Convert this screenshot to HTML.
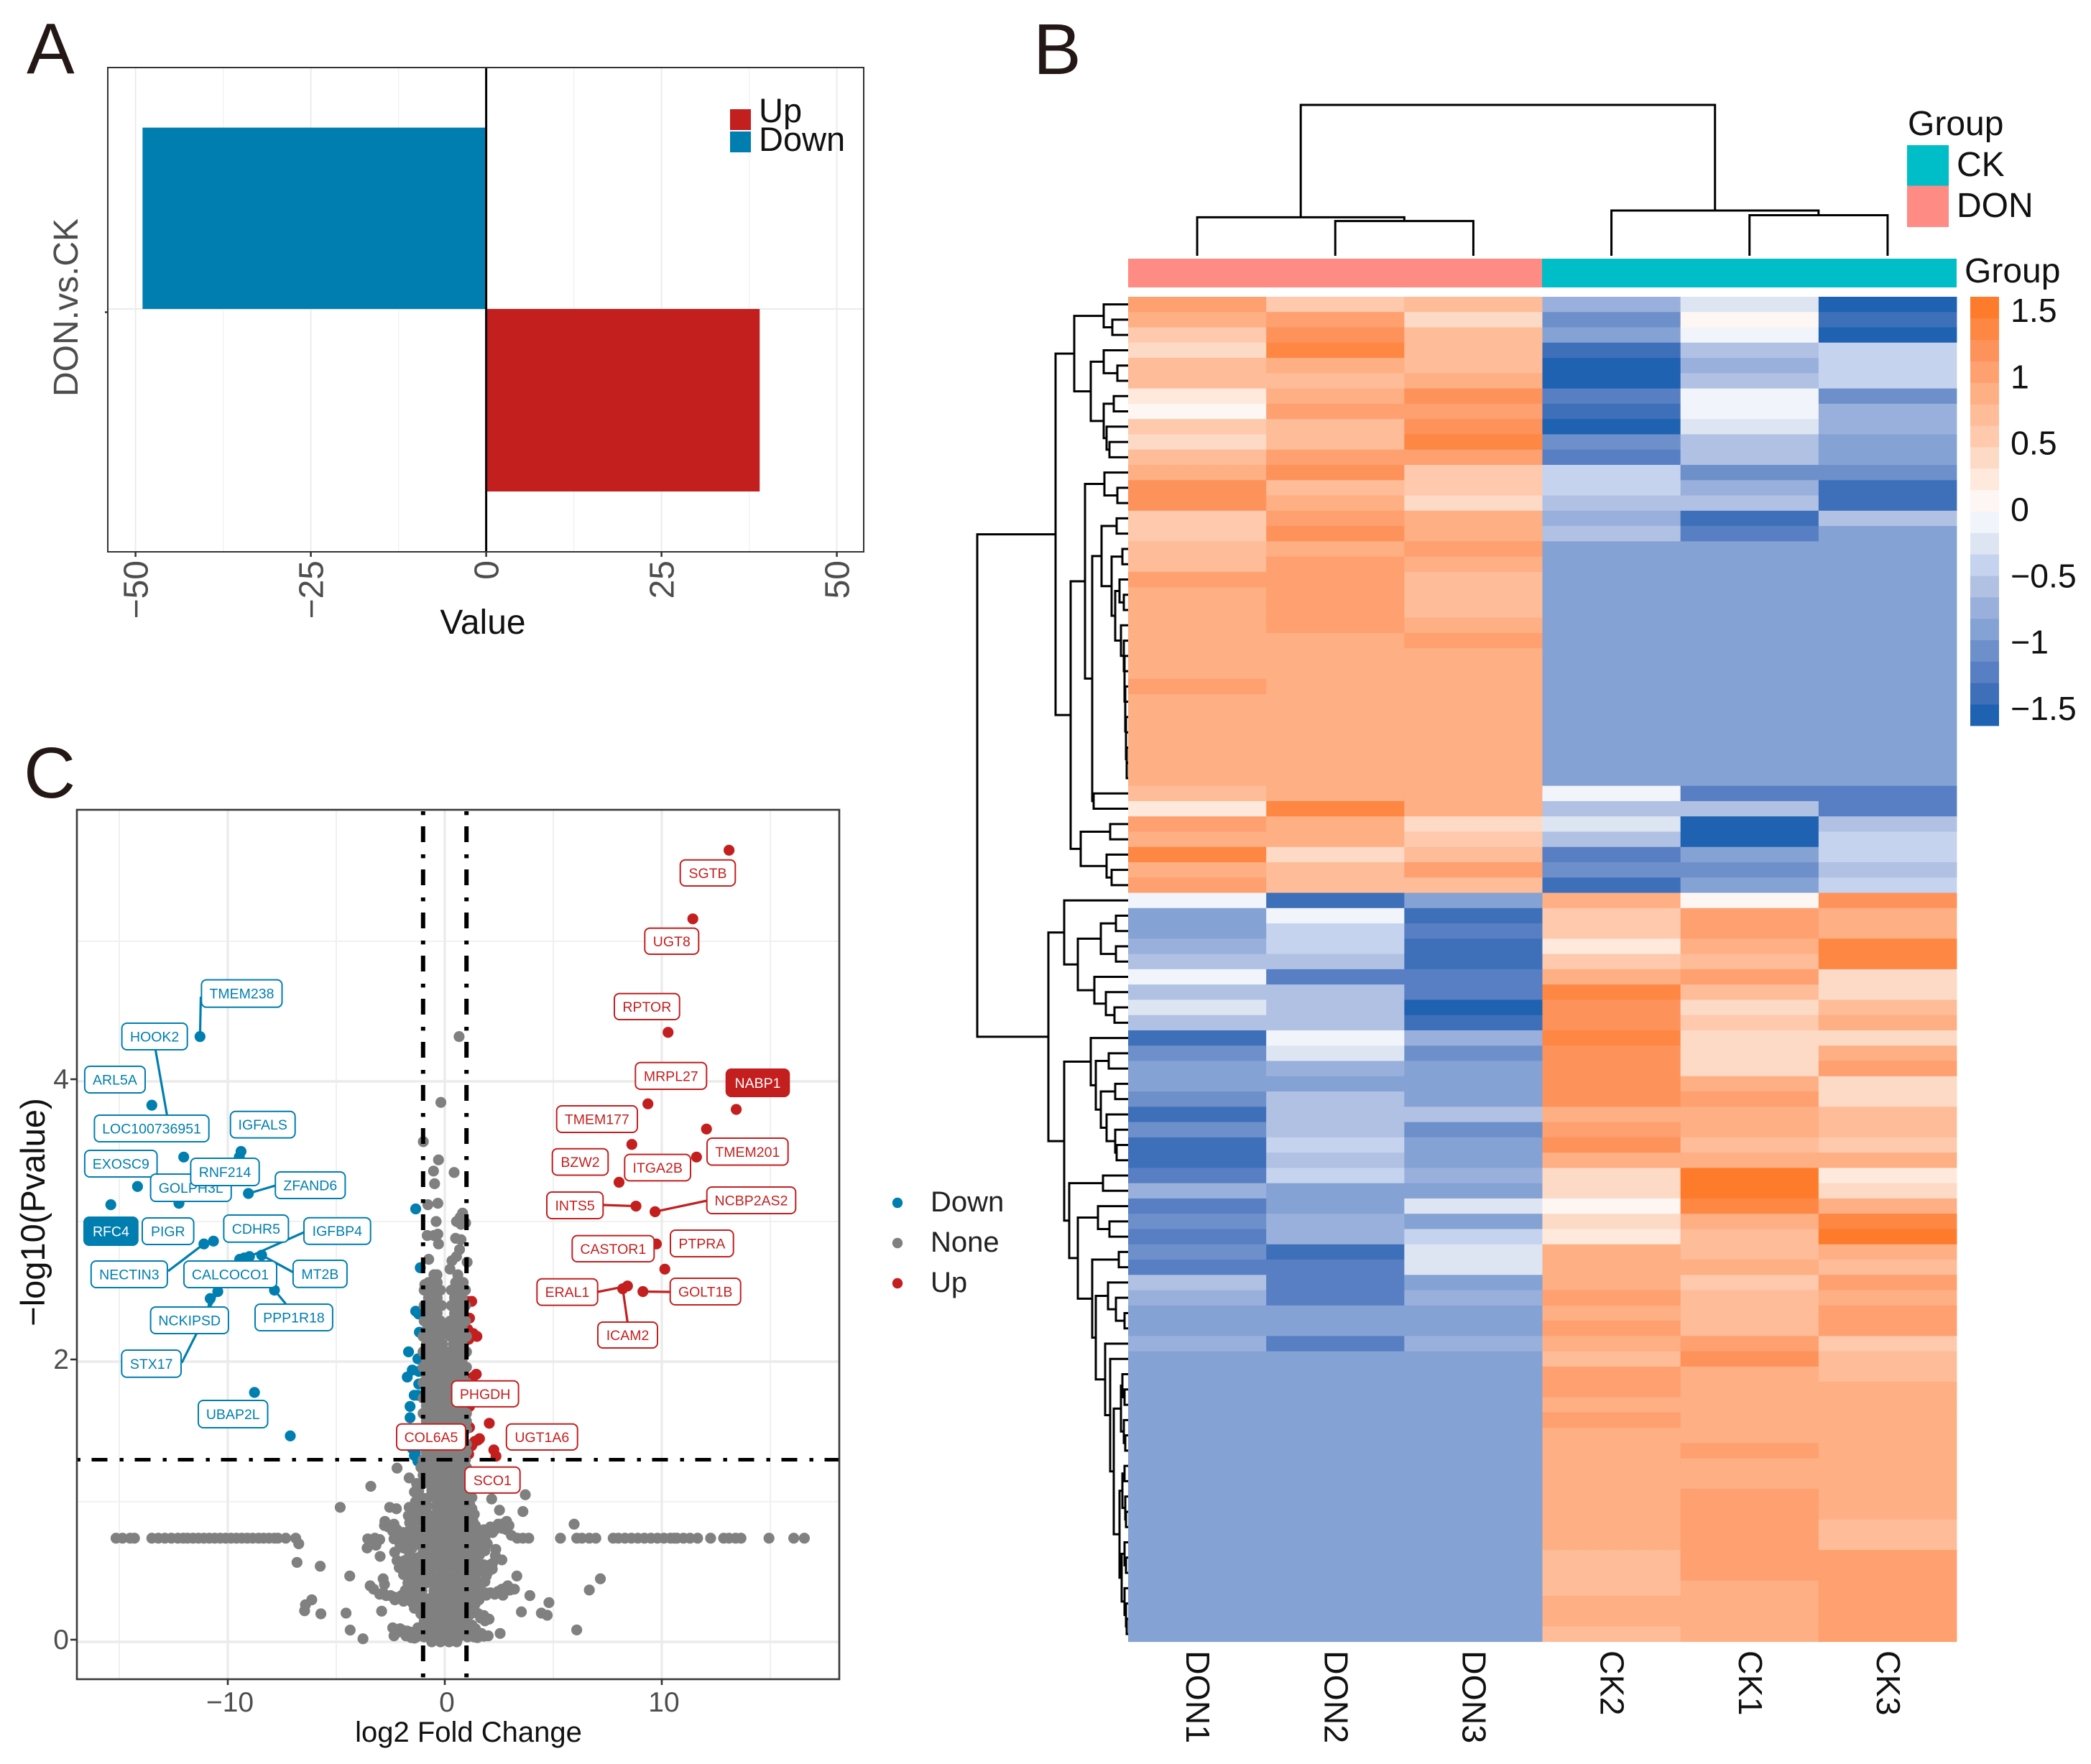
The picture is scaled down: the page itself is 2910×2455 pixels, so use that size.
<!DOCTYPE html>
<html lang="en">
<head>
<meta charset="utf-8">
<title>Differential expression figure: bar chart, heatmap and volcano plot</title>
<style>
html,body{margin:0;padding:0;background:#fff;}
svg{display:block;font-family:"Liberation Sans",Arial,sans-serif;}
</style>
</head>
<body>
<svg id="figure" xmlns="http://www.w3.org/2000/svg" width="2910" height="2455" viewBox="0 0 2910 2455">
<rect x="0" y="0" width="2910" height="2455" fill="#fff"/>
<text x="37" y="102" font-size="100" fill="#231815">A</text>
<text x="1438" y="103" font-size="100" fill="#231815">B</text>
<text x="33" y="1110" font-size="100" fill="#231815">C</text>

<g id="panelA"></g>
<text transform="translate(108 428) rotate(-90)" text-anchor="middle" font-size="48" fill="#4d4d4d">DON.vs.CK</text>
<text x="672" y="882" text-anchor="middle" font-size="48" fill="#111">Value</text>
<rect x="1016" y="152" width="29" height="29" fill="#C41F1F"/>
<rect x="1016" y="183" width="29" height="29" fill="#007EAF"/>
<text x="1056" y="170" font-size="47" fill="#111">Up</text>
<text x="1056" y="210" font-size="47" fill="#111">Down</text>

<g id="panelB"></g>
<rect x="1570" y="360" width="576" height="40" fill="#FF8B85"/>
<rect x="2146" y="360" width="577" height="40" fill="#00BEC8"/>
<text x="2734" y="393" font-size="48" fill="#111">Group</text>
<text x="2655" y="188" font-size="48" fill="#111">Group</text>
<rect x="2654" y="202" width="58" height="56.5" fill="#00BEC8"/>
<rect x="2654" y="258.5" width="58" height="57.5" fill="#FF8B85"/>
<text x="2723" y="245" font-size="48" fill="#111">CK</text>
<text x="2723" y="302" font-size="48" fill="#111">DON</text>

<g id="panelC"></g>
<text x="652" y="2424" text-anchor="middle" font-size="40" fill="#111">log2 Fold Change</text>
<text transform="translate(62 1687) rotate(-90)" text-anchor="middle" font-size="47" fill="#111">−log10(Pvalue)</text>
<circle cx="1249" cy="1674" r="7.2" fill="#007EAF"/>
<circle cx="1249" cy="1730" r="7.2" fill="#808080"/>
<circle cx="1249" cy="1786" r="7.2" fill="#C41F1F"/>
<text x="1295" y="1686" font-size="40" fill="#222">Down</text>
<text x="1295" y="1742" font-size="40" fill="#222">None</text>
<text x="1295" y="1798" font-size="40" fill="#222">Up</text>
</svg>

<script>
/* ---------- Panel A data ---------- */
const barCategories = ['Down', 'Up'];
const barValues = [-49, 39];
const barTicks = [-50, -25, 0, 25, 50];
const barMinorTicks = [-37.5, -12.5, 12.5, 37.5];

/* ---------- Panel B data ---------- */
const heatColumns = ['DON1', 'DON2', 'DON3', 'CK2', 'CK1', 'CK3'];
const heatPalette = ['#1e62b1','#3e70ba','#587fc3','#6e90ca','#85a2d4','#9ab0dc','#b1c1e3','#c5d3ee','#dee5f2','#f1f4fa','#fef6f2','#fee9dc','#fddac6','#fec9ad','#febc98','#feaf84','#fea06f','#fe925b','#fe8743','#fe7b2b'];
const heatDomain = [-1.625, 1.603];
const colorbarTicks = [1.5, 1, 0.5, 0, -0.5, -1, -1.5];
const heatValues = [
[1.04,.55,.71,-.74,-.25,-1.54],[.88,1.04,.39,-1.06,.07,-1.38],[.55,1.2,.71,-.9,-.09,-1.54],[.39,1.36,.71,-1.38,-.57,-.41],
[.71,.88,.71,-1.54,-.74,-.41],[.71,.71,.88,-1.54,-.57,-.41],[.23,.88,1.2,-1.22,-.09,-1.06],[.07,1.04,1.04,-1.38,-.09,-.74],
[.55,.71,1.2,-1.54,-.25,-.74],[.39,.71,1.36,-1.06,-.57,-.9],[.71,1.04,1.04,-1.22,-.57,-.9],[.88,1.2,.55,-.41,-1.06,-1.06],
[1.2,.71,.55,-.41,-.74,-1.38],[1.2,.88,.39,-.57,-.57,-1.38],[.55,1.04,.88,-.74,-1.38,-.57],[.55,1.2,.88,-.57,-1.22,-.9],
[.71,.88,1.04,-.9,-.9,-.9],[.71,1.04,.88,-.9,-.9,-.9],[1.04,1.04,.71,-.9,-.9,-.9],[.88,1.04,.71,-.9,-.9,-.9],
[.88,1.04,.71,-.9,-.9,-.9],[.88,1.04,.88,-.9,-.9,-.9],[.88,.88,1.04,-.9,-.9,-.9],[.88,.88,.88,-.9,-.9,-.9],
[.88,.88,.88,-.9,-.9,-.9],[1.04,.88,.88,-.9,-.9,-.9],[.88,.88,.88,-.9,-.9,-.9],[.88,.88,.88,-.9,-.9,-.9],
[.88,.88,.88,-.9,-.9,-.9],[.88,.88,.88,-.9,-.9,-.9],[.88,.88,.88,-.9,-.9,-.9],[.88,.88,.88,-.9,-.9,-.9],
[.71,.88,.88,-.09,-1.22,-1.22],[.23,1.36,.88,-.57,-.57,-1.22],[1.04,.88,.39,-.25,-1.54,-.57],[.88,.88,.55,-.57,-1.54,-.41],
[1.36,.39,.71,-1.22,-.9,-.41],[.88,.71,1.04,-1.06,-1.06,-.57],[1.04,.71,.71,-1.38,-.9,-.41],[-.09,-1.38,-.9,.88,.07,1.2],
[-.9,-.09,-1.38,.55,1.04,.88],[-.9,-.41,-1.22,.55,1.04,.88],[-.74,-.41,-1.38,.23,.88,1.36],[-.57,-.57,-1.38,.55,.71,1.36],
[-.09,-1.22,-1.22,.88,1.04,.39],[-.57,-.57,-1.22,1.36,.71,.39],[-.25,-.57,-1.54,1.2,.39,.71],[-.57,-.57,-1.38,1.2,.55,.88],
[-1.38,-.09,-.74,1.36,.39,.39],[-1.06,-.25,-1.06,1.2,.39,.88],[-.9,-.74,-.9,1.2,.39,1.04],[-.9,-.9,-.9,1.2,.88,.39],
[-1.06,-.57,-.9,1.2,1.04,.39],[-1.38,-.57,-.57,.88,.88,.71],[-1.06,-.57,-1.06,1.04,.88,.71],[-1.38,-.41,-.9,1.2,.71,.55],
[-1.38,-.57,-.9,.88,.88,.88],[-1.22,-.41,-.74,.39,1.52,.23],[-.74,-.9,-.9,.39,1.52,.39],[-1.22,-.9,-.25,.07,1.36,.88],
[-1.06,-.74,-.9,.39,.88,1.36],[-1.22,-.74,-.41,.23,.71,1.52],[-1.06,-1.38,-.25,.88,.71,.88],[-1.22,-1.22,-.25,.88,.88,.71],
[-.57,-1.22,-.9,.88,.55,1.04],[-.74,-1.22,-.74,1.04,.71,.88],[-.9,-.9,-.9,.88,.71,1.04],[-.9,-.9,-.9,1.04,.71,1.04],
[-.74,-1.22,-.74,.88,1.04,.55],[-.9,-.9,-.9,.71,1.2,.71],[-.9,-.9,-.9,1.04,.88,.71],[-.9,-.9,-.9,1.04,.88,.88],
[-.9,-.9,-.9,.88,.88,.88],[-.9,-.9,-.9,1.04,.88,.88],[-.9,-.9,-.9,.88,.88,.88],[-.9,-.9,-.9,.88,1.04,.88],
[-.9,-.9,-.9,.88,.88,.88],[-.9,-.9,-.9,.88,.88,.88],[-.9,-.9,-.9,.88,1.04,.88],[-.9,-.9,-.9,.88,1.04,.88],
[-.9,-.9,-.9,.88,1.04,.71],[-.9,-.9,-.9,.88,1.04,.71],[-.9,-.9,-.9,.71,1.04,1.04],[-.9,-.9,-.9,.71,1.04,1.04],
[-.9,-.9,-.9,.71,.88,1.04],[-.9,-.9,-.9,.88,.88,1.04],[-.9,-.9,-.9,.88,.88,1.04],[-.9,-.9,-.9,.71,.88,1.04]
];
/* dendrograms: [merge height, child, child]; a bare number is a leaf (row or column number) */
const rowTree = [210,
 [101,
  [75,
   [34,1,[22,2,3]],
   [52,[34,4,[15,5,6]],[34,[20,7,8],[30,9,[26,10,11]]]]],
  [80,
   [60,
    [33,12,[15,13,14]],
    [50,
     [37,[16,15,16],[23,[8,17,18],[18,[12,19,[6,20,21]],[10,22,[6,23,[5,24,[5,25,[4,26,[4,27,[3,28,[3,29,[2,30,[2,31,32]]]]]]]]]]]]],
     [48,33,34]]],
   [66,[25,35,36],[30,37,[23,38,39]]]]],
 [111,
  [89,40,[70,[38,[17,41,42],[17,43,44]],[47,45,[31,46,[19,47,48]]]]],
  [89,
   [52,49,[45,[27,50,51],[38,[18,52,53],[30,54,[18,55,[16,56,57]]]]]],
   [82,
    [35,58,59],
    [70,
     [42,60,[26,61,62]],
     [50,[13,63,64],
      [45,
       [28,65,[17,66,[5,67,68]]],
       [32,69,[25,70,[20,
        [10,[8,71,[5,72,73]],[6,74,[4,75,76]]],
        [12,[8,[5,77,78],[4,79,[3,80,81]]],[9,[5,82,[3,83,84]],[5,85,[3,86,[2,87,88]]]]]]]]]]]]]]];
const colTree = [210,[53.6,1,[48.4,2,3]],[63,4,[56.5,5,6]]];

/* ---------- Panel C data ---------- */
const volcanoXTicks = [-10, 0, 10];
const volcanoXMinor = [-15, -5, 5, 15];
const volcanoYTicks = [0, 2, 4];
const volcanoYMinor = [1, 3, 5];
const fcThresholds = [-1, 1];
const pThreshold = 1.3;

const downGenes = ['TMEM238','HOOK2','ARL5A','LOC100736951','IGFALS','EXOSC9','GOLPH3L','RNF214','ZFAND6','RFC4','PIGR','CDHR5','IGFBP4','NECTIN3','CALCOCO1','MT2B','NCKIPSD','PPP1R18','STX17','UBAP2L'];
const downX = [-11.28,-12.7,-13.5,-12.03,-9.39,-14.16,-12.25,-9.47,-9.05,-15.39,-10.66,-9.45,-9,-11.1,-9.24,-8.44,-10.81,-7.85,-10.46,-8.77];
const downY = [4.32,3.67,3.83,3.46,3.5,3.25,3.13,3.46,3.2,3.12,2.86,2.73,2.75,2.84,2.74,2.76,2.45,2.51,2.5,1.78];
const downOtherX = [-7.12,-1.34,-1.13,-1.34,-1.2,-1.17,-1.67,-1.24,-1.5,-1.73,-1.2,-1.2,-1.41,-1.25,-1.6,-1.6,-1.5,-1.36,-1.4,-1.24];
const downOtherY = [1.47,3.09,2.67,2.36,2.34,2.21,2.07,2.02,1.94,1.89,1.93,1.84,1.76,1.76,1.68,1.6,1.38,1.35,1.33,1.29];

const upGenes = ['SGTB','UGT8','RPTOR','MRPL27','NABP1','TMEM177','TMEM201','BZW2','ITGA2B','INTS5','NCBP2AS2','CASTOR1','PTPRA','ERAL1','GOLT1B','ICAM2','PHGDH','COL6A5','UGT1A6','SCO1'];
const upX = [13.1,11.43,10.29,9.36,13.43,8.62,12.06,8.03,11.6,8.81,9.69,9.75,10.14,8.42,9.13,8.2,1.14,1.24,2.05,2.36];
const upY = [5.65,5.16,4.35,3.84,3.8,3.55,3.66,3.28,3.46,3.11,3.07,2.84,2.66,2.54,2.5,2.52,1.68,1.4,1.56,1.325];
const upOtherX = [1.24,1.03,1.14,1.06,1.31,1.48,1.11,1.45,1.3,1.14,1.52,1.38,2.26,1.6,1.1];
const upOtherY = [2.43,2.43,2.31,2.23,2.2,2.18,2.16,1.91,1.89,1.53,1.44,1.43,1.37,1.45,1.34];

const grayBand = [-15.15,-14.85,-14.5,-14.3,-13.5,-13.2,-12.9,-12.6,-12.3,-12.05,-11.85,-11.6,-11.35,-11.1,-10.85,-10.6,-10.35,-10.1,-9.85,-9.6,-9.35,-9.1,-8.85,-8.58,-8.35,-8.1,-7.85,-7.69,-7.33,-6.87,3.34,3.6,3.87,5.33,6.08,6.32,6.66,6.96,7.76,8,8.3,8.6,8.9,9.2,9.5,9.8,10.1,10.4,10.58,10.7,11,11.3,11.65,12.25,12.85,13.1,13.4,13.65,14.94,16.08,16.57];
const grayBandLevel = 0.74;
const grayScatter = [
[.66,4.32],[-.18,3.85],[-.99,3.57],[-.29,3.44],[-.52,3.36],[.43,3.35],[-.47,3.27],[-.78,3.12],[-.32,3.13],[-.4,3],[.82,3.06],[.71,3.03],[.54,3],[.96,2.99],[.75,2.98],[-.81,2.9],[-.5,2.9],[-.32,2.91],[-.29,2.84],[.5,2.88],[.75,2.87],[.68,2.8],[.54,2.75],[.33,2.72],[1.03,2.71],[-.74,2.73],[.24,2.66],[-.36,2.62],[-.92,2.55],
[-3.41,1.11],[-4.82,.96],[-2.2,1.24],[-1.64,1.17],[-2.54,.96],[-2.23,.95],[-1.64,.96],[-1.4,.97],[-2.76,.86],[-2.78,.83],[-2.34,.84],[-2.4,.79],[-2.06,.78],[-1.68,.9],[-1.62,.85],[-1.5,.79],[-2.34,.735],[-1.95,.73],[-1.7,.76],[-3.55,.735],[-3.22,.74],[-3,.73],[-3.33,.71],[-3.58,.67],[-3.17,.69],[-2.98,.61],[-2.31,.64],[-2.06,.69],[-1.64,.64],[-2.06,.57],[-2.06,.53],[-1.84,.49],[-1.51,.56],[-1.68,.5],[-1.51,.45],[-1.29,.4],[-2.84,.45],[-2.78,.41],[-3.44,.4],[-3.28,.376],[-2.84,.35],[-2.5,.33],[-2.17,.316],[-1.82,.367],[-1.73,.316],[-1.4,.308],[-1.29,.256],[-1.07,.197],[-2.91,.219],[-4.38,.47],[-5.74,.54],[-6.81,.567],[-6.13,.3],[-6.42,.265],[-6.46,.222],[-5.71,.2],[-4.55,.205],[-4.36,.084],[-3.77,.022],[-2.4,.1],[-2.34,.043],[-2.06,.094],[-1.73,.077],[-1.79,.043],[-1.24,.1],[-1.4,.026],[-6.73,.7],
[2.16,1.02],[3.71,1.05],[2.52,.94],[3.6,.93],[1.25,1.03],[1.36,.91],[2.85,.86],[2.46,.84],[2.96,.83],[2.02,.795],[1.69,.78],[1.41,.83],[3.07,.76],[1.96,.7],[1.58,.675],[1.85,.65],[2.35,.66],[2.33,.615],[2.63,.585],[1.45,.6],[2.19,.52],[1.85,.52],[1.52,.5],[1.41,.45],[1.91,.47],[1.69,.42],[3.32,.47],[2.9,.4],[3.21,.376],[2.63,.376],[2.68,.333],[2.3,.34],[1.91,.333],[1.58,.3],[1.25,.265],[3.92,.33],[4.8,.28],[3.53,.214],[4.45,.205],[4.72,.19],[1.41,.214],[1.8,.188],[2.04,.162],[1.41,.094],[1.69,.06],[2,.043],[2.55,.06],[1.5,.03],[5.96,.84],[7.17,.45],[6.66,.37],[6.08,.085],[2.2,.78],[2.65,.81],[1.85,.74],[2.2,.56],[1.3,.72],
[-2.2,.58],[-1.85,.58],[-1.5,.6],[-1.25,.6],[-2.1,.53],[-1.8,.53],[-1.55,.53],[-1.9,.48],[-1.6,.46],[-1.3,.46],[-1.7,.42],[-1.4,.4],[-1.55,.37],[-1.2,.36],
[-3,.34],[-2.7,.33],[-2.35,.32],[-2,.33],[-1.6,.33],[-1.25,.33],[-2.3,.3],[-1.9,.29],[-1.5,.28],[-1.2,.27],[-1.4,.24],[-1.15,.22],
[-2.6,.82],[-2.2,.8],[-1.9,.78],[-2.2,.74],[-1.85,.72],[-1.6,.8],[-1.6,.74],[-1.4,.72],[-1.35,.78],[-1.9,.67],[-1.5,.67],
[-1.5,.95],[-1.3,.95],[-1.5,.9],[-1.4,.85],[-1.3,.88],[-1.4,1.07],[-1.25,1.06],[-1.35,1],[-1.3,1.13],
[-2.15,.07],[-1.9,.08],[-1.6,.07],[-1.55,.03],[-1.2,.07],
[1.2,.78],[1.5,.77],[1.8,.8],[2.1,.82],[2.3,.8],[2.6,.84],[2.85,.8],[1.25,.7],[1.55,.72],[1.2,.85],[1.25,.63],[1.6,.62],[1.25,.95],[1.15,.98],
[1.2,.55],[1.5,.55],[1.8,.55],[2.1,.55],[1.25,.5],[1.75,.5],[2,.5],[1.2,.42],[1.5,.41],[1.85,.43],
[1.3,.32],[1.55,.33],[1.85,.35],[2.1,.35],[2.45,.36],[2.75,.38],[3,.37],[1.2,.3],[1.4,.27],
[1.2,.2],[1.55,.2],[1.65,.17],[1.85,.15],[1.25,.12],[1.2,.06],[1.5,.07],[1.8,.04],[1.25,1.12]
];
const grayRows = [
[0,[-.6,-.2,.2,.55]],[.035,[-1.3,-.95,-.55,-.15,.25,.65,1.05,1.35]],[.09,[-1.1,-.7,-.3,.1,.5,.9,1.25]],[.145,[-.95,-.5,-.1,.3,.7,1.05]],
[.2,[-1.1,-.7,-.3,.1,.5,.9]],[.255,[-.9,-.5,-.1,.3,.7,1.1]],[.31,[-1.1,-.7,-.3,.1,.5,.9]],[.365,[-1.05,-.5,-.1,.3,.7,1.1,1.45]],
[.42,[-1.25,-.85,-.45,-.05,.35,.75,1.15,1.5]],[.475,[-1.35,-.95,-.55,-.15,.25,.65,1.05,1.3]],[.53,[-1.4,-1,-.6,-.2,.2,.6,1,1.3]],[.585,[-1.3,-.9,-.5,-.1,.3,.7,1.1]],
[.64,[-1,-.6,-.2,.2,.6,1,1.35]],[.695,[-1.15,-.8,-.4,0,.4,.8,1.2]],[.75,[-1.3,-1,-.6,-.2,.2,.6,1,1.35]],[.805,[-1.35,-.9,-.5,-.1,.3,.7,1.1,1.45]],
[.86,[-1.3,-1,-.6,-.2,.2,.6,1,1.3]],[.915,[-1.2,-.8,-.4,0,.4,.8,1.15]],[.97,[-1.15,-.8,-.4,-.2,.2,.6,1]],[1.025,[-1,-.8,-.4,0,.4,.8,1.1]],
[1.08,[-1.2,-.6,-.2,.2,.6,1]],[1.135,[-1,-.8,-.4,0,.4,.8,1]],[1.19,[-1,-.6,-.2,.2,.6,.95]],[1.245,[-1.1,-.8,-.4,0,.4,.8,1]],
[1.3,[-1,-.6,-.2,.2,.6,.95]],[1.355,[-.85,-.4,0,.4,.8,1]],[1.41,[-1,-.6,-.2,.2,.6,1]],[1.465,[-.85,-.4,0,.4,.8]],
[1.52,[-1,-.6,-.2,.2,.6,1]],[1.575,[-.85,-.4,0,.4,.8,1]],[1.63,[-1,-.6,-.2,.2,.6,1]],[1.685,[-.85,-.4,0,.4,.8]],
[1.74,[-1,-.6,-.2,.2,.6,1]],[1.795,[-.85,-.4,0,.4,.8]],[1.85,[-1,-.6,-.2,.2,.6,1]],[1.905,[-.85,-.4,0,.4,.8]],
[1.96,[-1,-.6,-.2,.2,.6,1]],[2.015,[-.85,-.45,-.05,.35,.8]],[2.07,[-1,-.6,-.2,.2,.6,1]],[2.125,[-.85,-.45,-.1,.4,.8]],
[2.18,[-1,-.6,-.2,.25,.6,1]],[2.235,[-.8,-.4,-.05,.4,.8]],[2.29,[-.95,-.55,-.2,.25,.6,.95]],[2.345,[-.75,-.35,.45,.8]],
[2.4,[-.95,-.55,-.15,.3,.65,.95]],[2.455,[-.75,-.35,.45,.8]],[2.51,[-.95,-.55,-.2,.3,.6,.95]],[2.565,[-.75,-.35,.5,.85]],[2.62,[-.5,.6]]
];

/* gene label placement (pixel layout, not data): box corners and optional connector start */
const labelLayout = {
 TMEM238:[280.4,1363.6,392.5,1401.8,279.5,1387],HOOK2:[169.6,1424,260.7,1461,216.4,1461],ARL5A:[117.9,1484,202,1521],
 LOC100736951:[131.4,1552,290.7,1589],IGFALS:[320.7,1546.8,410.7,1583.6],EXOSC9:[117.9,1601,218.6,1638],
 GOLPH3L:[209.6,1634,321.8,1672],RNF214:[265.4,1612,360.7,1650],ZFAND6:[383.2,1631,480.4,1668,383.2,1650],
 RFC4:[117,1694,191.8,1733],PIGR:[198,1695,269.6,1732],CDHR5:[311.4,1691,401.4,1728.7],IGFBP4:[423,1694.7,515.7,1731.7,423,1715],
 NECTIN3:[126.8,1755,232.9,1792,234,1769],CALCOCO1:[256,1755,385,1792],MT2B:[407.9,1754,482.9,1791.7,408,1770.7],
 NCKIPSD:[209.6,1819,317.9,1856,290,1819],PPP1R18:[355,1815,462.9,1852,398,1815],STX17:[169.3,1879,252,1916.7,252.9,1896.7],UBAP2L:[276,1949,372.5,1987],
 SGTB:[946.7,1196.7,1023.3,1233],UGT8:[897.3,1291.7,972.3,1328],RPTOR:[855,1382.7,945.7,1419],MRPL27:[884.3,1478.8,983.3,1516],
 NABP1:[1010.7,1488,1098.3,1526],TMEM177:[774.7,1539,887,1576],TMEM201:[984,1584,1096.7,1621.5],BZW2:[768.7,1598.7,846.3,1635.5],
 ITGA2B:[869.3,1606.6,961,1643.4],INTS5:[761,1659,839.3,1696,839.3,1677],NCBP2AS2:[983.7,1652,1107.3,1689,983.7,1671],
 CASTOR1:[796.3,1719.6,910.3,1756],PTPRA:[933,1712,1020.7,1749],ERAL1:[747.3,1779.7,831.7,1816.6,831.7,1798],
 GOLT1B:[932.7,1779,1030.7,1816,932.7,1798],ICAM2:[832,1840,915,1876,873.3,1840],
 PHGDH:[628.6,1921.7,721.6,1957.9],COL6A5:[552,1981.7,648,2018],UGT1A6:[704.8,1981.7,803.7,2018],SCO1:[647,2041.8,723.7,2077.9]
};
const filledLabels = ['RFC4', 'NABP1'];

/* ---------- helpers ---------- */
const NS = 'http://www.w3.org/2000/svg';
function mk(tag, attrs, parent) {
  const e = document.createElementNS(NS, tag);
  for (const k in attrs) e.setAttribute(k, attrs[k]);
  parent.appendChild(e);
  return e;
}
function fmt(v) { return String(v).replace('-', '\u2212'); }

/* ---------- Panel A ---------- */
(function () {
  const g = document.getElementById('panelA');
  const X = v => 676.6 + 9.76 * v;
  const left = 150, right = 1202, top = 94, bottom = 768, mid = 430;
  barMinorTicks.forEach(t => {
    const l = mk('line', {x1: X(t), x2: X(t), y1: top, y2: bottom, stroke: '#f0f0f0', 'stroke-width': 1.2}, g);
    
    
  });
  barTicks.forEach(t => {
    const l = mk('line', {x1: X(t), x2: X(t), y1: top, y2: bottom, stroke: '#ebebeb', 'stroke-width': 1.8}, g);
    
    
  });
  const hg = mk('line', {x1: left, x2: right, y1: mid, y2: mid, stroke: '#ebebeb', 'stroke-width': 2}, g);
  
  
  barValues.forEach((v, i) => {
    const isDown = v < 0;
    const b = mk('rect', {x: Math.min(X(0), X(v)), width: Math.abs(X(v) - X(0)), y: isDown ? 177.6 : mid, height: isDown ? mid - 177.6 : 254, fill: isDown ? '#007EAF' : '#C41F1F'}, g);
    
    
  });
  const zero = mk('line', {x1: X(0), x2: X(0), y1: top, y2: bottom, stroke: '#000', 'stroke-width': 3}, g);
  
  
  const frame = mk('rect', {x: left, y: top, width: right - left, height: bottom - top, fill: 'none', stroke: '#333', 'stroke-width': 2}, g);
  
  
  const yt = mk('line', {x1: 146, x2: left, y1: 434.5, y2: 434.5, stroke: '#333', 'stroke-width': 2.5}, g);
  
  
  barTicks.forEach(t => {
    const l = mk('line', {x1: X(t), x2: X(t), y1: bottom, y2: bottom + 7, stroke: '#333', 'stroke-width': 2.5}, g);
    
    
    const tx = mk('text', {transform: 'translate(' + (X(t) + 17) + ' 780) rotate(-90)', 'text-anchor': 'end', 'font-size': 48, fill: '#4d4d4d'}, g);
    tx.textContent = fmt(t);
    
    
  });
})();

/* ---------- Panel B ---------- */
(function () {
  const g = document.getElementById('panelB');
  const left = 1570, top = 413, cw = 192.17, rh = 21.27;
  const color = v => {
    const n = heatPalette.length;
    let i = Math.floor((v - heatDomain[0]) / (heatDomain[1] - heatDomain[0]) * n);
    i = Math.max(0, Math.min(n - 1, i));
    return heatPalette[i];
  };
  heatValues.forEach((row, r) => {
    row.forEach((v, c) => {
      const cell = mk('rect', {x: left + c * cw, y: top + r * rh, width: cw + 0.4, height: rh + 0.4, fill: color(v)}, g);
      
      
    });
  });
  heatColumns.forEach((name, c) => {
    const t = mk('text', {transform: 'translate(' + (left + (c + 0.5) * cw - 15) + ' 2297) rotate(90)', 'font-size': 46.5, fill: '#111'}, g);
    t.textContent = name;
    
    
  });
  function drawRow(node) {
    if (typeof node === 'number') return {x: left, y: top + rh * (node - 0.5)};
    const a = drawRow(node[1]), b = drawRow(node[2]), x = left - node[0];
    const p = mk('path', {d: 'M' + a.x + ' ' + a.y + 'H' + x + 'V' + b.y + 'H' + b.x, fill: 'none', stroke: '#000', 'stroke-width': 3}, g);
    
    
    return {x: x, y: (a.y + b.y) / 2};
  }
  drawRow(rowTree);
  function drawCol(node) {
    if (typeof node === 'number') return {x: left + cw * (node - 0.5), y: 356};
    const a = drawCol(node[1]), b = drawCol(node[2]), y = 356 - node[0];
    const p = mk('path', {d: 'M' + a.x + ' ' + a.y + 'V' + y + 'H' + b.x + 'V' + b.y, fill: 'none', stroke: '#000', 'stroke-width': 3}, g);
    
    
    return {x: (a.x + b.x) / 2, y: y};
  }
  drawCol(colTree);
  const barTop = 413, barH = 597, Y = v => 709 - 184.7 * v;
  heatPalette.forEach((c, i) => {
    const h = barH / heatPalette.length;
    const s = mk('rect', {x: 2742, y: barTop + (heatPalette.length - 1 - i) * h, width: 40, height: h + 0.4, fill: c}, g);
    
    
  });
  colorbarTicks.forEach(v => {
    const t = mk('text', {x: 2798, y: Y(v) + 16, 'font-size': 46.5, fill: '#111'}, g);
    t.textContent = fmt(v);
    
    
  });
})();

/* ---------- Panel C ---------- */
(function () {
  const g = document.getElementById('panelC');
  const left = 107, right = 1168, top = 1127, bottom = 2337;
  const X = v => 619 + 30.2 * v;
  const Y = v => 2285 - 195 * v;
  const defs = mk('defs', {}, g);
  const clip = mk('clipPath', {id: 'volcanoClip'}, defs);
  mk('rect', {x: left, y: top, width: right - left, height: bottom - top}, clip);

  volcanoXMinor.forEach(t => {
    const l = mk('line', {x1: X(t), x2: X(t), y1: top, y2: bottom, stroke: '#efefef', 'stroke-width': 1.8}, g);
    
    
  });
  volcanoYMinor.forEach(t => {
    const l = mk('line', {x1: left, x2: right, y1: Y(t), y2: Y(t), stroke: '#efefef', 'stroke-width': 1.8}, g);
    
    
  });
  volcanoXTicks.forEach(t => {
    const l = mk('line', {x1: X(t), x2: X(t), y1: top, y2: bottom, stroke: '#ebebeb', 'stroke-width': 3.4}, g);
    
    
  });
  volcanoYTicks.forEach(t => {
    const l = mk('line', {x1: left, x2: right, y1: Y(t), y2: Y(t), stroke: '#ebebeb', 'stroke-width': 3.4}, g);
    
    
  });

  function dot(x, y, fill, name) {
    const c = mk('circle', {cx: X(x), cy: Y(y), r: 7.6, fill: fill}, g);
    
    
  }
  downX.forEach((x, i) => dot(x, downY[i], '#007EAF', 'down-gene-point'));
  downOtherX.forEach((x, i) => dot(x, downOtherY[i], '#007EAF', 'down-point'));
  upX.forEach((x, i) => dot(x, upY[i], '#C41F1F', 'up-gene-point'));
  upOtherX.forEach((x, i) => dot(x, upOtherY[i], '#C41F1F', 'up-point'));
  grayBand.forEach(x => dot(x, grayBandLevel, '#808080', 'none-point'));
  grayScatter.forEach(p => dot(p[0], p[1], '#808080', 'none-point'));
  grayRows.forEach(r => r[1].forEach(x => dot(x, r[0], '#808080', 'none-point')));

  const dash = '22 17 5.4 15.6';
  fcThresholds.forEach(t => {
    const l = mk('line', {x1: X(t), x2: X(t), y1: 1090, y2: bottom, stroke: '#000', 'stroke-width': 6, 'stroke-dasharray': dash, 'clip-path': 'url(#volcanoClip)'}, g);
    
    
  });
  const h = mk('line', {x1: 67.5, x2: right, y1: Y(pThreshold), y2: Y(pThreshold), stroke: '#000', 'stroke-width': 5, 'stroke-dasharray': dash, 'clip-path': 'url(#volcanoClip)'}, g);
  
  

  function drawLabels(genes, xs, ys, color) {
    genes.forEach((gene, i) => {
      const box = labelLayout[gene];
      if (box.length > 4) {
        const c = mk('line', {x1: box[4], y1: box[5], x2: X(xs[i]), y2: Y(ys[i]), stroke: color, 'stroke-width': 3.2}, g);
        
        
      }
    });
    genes.forEach(gene => {
      const box = labelLayout[gene];
      const filled = filledLabels.indexOf(gene) >= 0;
      const r = mk('rect', {x: box[0], y: box[1], width: box[2] - box[0], height: box[3] - box[1], rx: 7, ry: 7, fill: filled ? color : '#fff', stroke: color, 'stroke-width': 2}, g);
      
      
      const t = mk('text', {x: (box[0] + box[2]) / 2, y: (box[1] + box[3]) / 2 + 7, 'text-anchor': 'middle', 'font-size': 19.5, fill: filled ? '#fff' : color}, g);
      t.textContent = gene;
      
      
    });
  }
  drawLabels(downGenes, downX, downY, '#007EAF');
  drawLabels(upGenes, upX, upY, '#C41F1F');

  const frame = mk('rect', {x: left, y: top, width: right - left, height: bottom - top, fill: 'none', stroke: '#3a3a3a', 'stroke-width': 2.6}, g);
  
  
  volcanoXTicks.forEach(t => {
    const l = mk('line', {x1: X(t), x2: X(t), y1: bottom, y2: bottom + 8, stroke: '#333', 'stroke-width': 2.6}, g);
    
    
    const tx = mk('text', {x: X(t) + 3, y: 2382, 'text-anchor': 'middle', 'font-size': 39, fill: '#4d4d4d'}, g);
    tx.textContent = fmt(t);
    
    
  });
  volcanoYTicks.forEach(t => {
    const l = mk('line', {x1: 98, x2: left, y1: Y(t) - 3, y2: Y(t) - 3, stroke: '#333', 'stroke-width': 2.6}, g);
    
    
    const tx = mk('text', {x: 96, y: Y(t) + 10, 'text-anchor': 'end', 'font-size': 39, fill: '#4d4d4d'}, g);
    tx.textContent = fmt(t);
    
    
  });
})();
</script>
</body>
</html>
